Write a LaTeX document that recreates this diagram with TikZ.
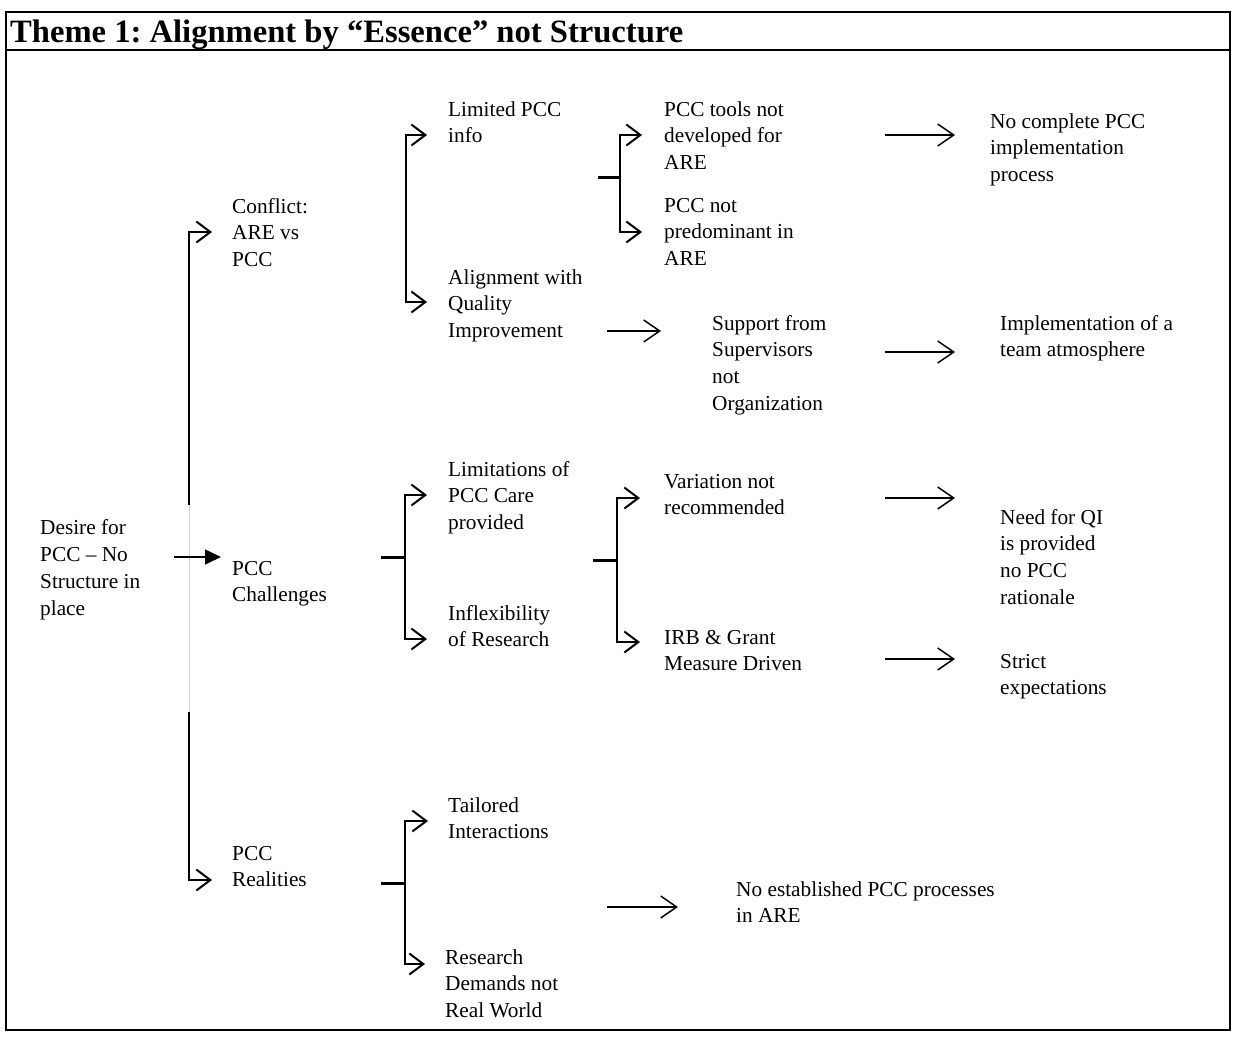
\documentclass[tikz,border=0pt]{standalone}
\usepackage{fontspec}
\setmainfont{Liberation Serif}
\frenchspacing
\usetikzlibrary{arrows.meta, positioning, calc}

\begin{document}
\begin{tikzpicture}[
    x=1pt, y=-1pt,
    lbl/.style={anchor=base west, align=left, inner sep=0pt,
                font=\fontsize{21.3}{26.7}\selectfont},
    ttl/.style={anchor=base west, inner sep=0pt,
                font=\fontsize{32.6}{38}\selectfont\bfseries},
    outer/.style={line width=2pt, black},
    brk/.style={line width=2pt,
                {Straight Barb[length=14pt,width=21pt]}-{Straight Barb[length=14pt,width=21pt]}},
    hook/.style={line width=2pt, -{Straight Barb[length=14pt,width=21pt]}},
    stub/.style={line width=3pt},
    lng/.style={line width=1.5pt, -{Straight Barb[length=16pt,width=22pt]}},
    fwd/.style={line width=1.6pt, -{Triangle[length=16pt,width=15pt]}}
]
\useasboundingbox (0,0) rectangle (1233,1036);

% --- Frame and title ---
\draw[outer] (6,12) rectangle (1230,1030);
\draw[outer] (6,50) -- (1230,50);
\node[ttl] (title) at (10,42) {Theme 1: Alignment by “Essence” not Structure};

% --- Root (nodes are placed at the baseline of their last line) ---
\node[lbl] (desire) at (40,615) {Desire for\\PCC -- No\\Structure in\\place};

% --- First level ---
\node[lbl] (conflict)   at (232,266.4) {Conflict:\\ARE vs\\PCC};
\node[lbl] (challenges) at (232,601.7) {PCC\\Challenges};
\node[lbl] (realities)  at (232,886.7) {PCC\\Realities};

% --- Second level ---
\node[lbl] (limited)  at (448,142.7)  {Limited PCC\\info};
\node[lbl] (alignq)   at (448,337.4)  {Alignment with\\Quality\\Improvement};
\node[lbl] (limits)   at (448,529.4)  {Limitations of\\PCC Care\\provided};
\node[lbl] (inflex)   at (448,646.7)  {Inflexibility\\of Research};
\node[lbl] (tailored) at (448,838.7)  {Tailored\\Interactions};
\node[lbl] (demands)  at (445,1017.4) {Research\\Demands not\\Real World};

% --- Third level ---
\node[lbl] (tools)     at (664,169.4) {PCC tools not\\developed for\\ARE};
\node[lbl] (predom)    at (664,265.4) {PCC not\\predominant in\\ARE};
\node[lbl] (support)   at (712,410.1) {Support from\\Supervisors\\not\\Organization};
\node[lbl] (variation) at (664,514.7) {Variation not\\recommended};
\node[lbl] (irb)       at (664,670.7) {IRB \& Grant\\Measure Driven};
\node[lbl] (noestab)   at (736,922.7) {No established PCC processes\\in ARE};

% --- Outcomes ---
\node[lbl] (nocomplete) at (990,181.4)  {No complete PCC\\implementation\\process};
\node[lbl] (teamatm)    at (1000,356.7) {Implementation of a\\team atmosphere};
\node[lbl] (needqi)     at (1000,604.1) {Need for QI\\is provided\\no PCC\\rationale};
\node[lbl] (strict)     at (1000,694.7) {Strict\\expectations};

% --- Main spine ---
\coordinate (spTop) at (189,505);
\coordinate (spBot) at (189,712);
\coordinate (spCf)  at (189,232);
\coordinate (spRe)  at (189,880);
\draw[line width=1pt, gray!35] (spTop) -- (spBot);
\draw[hook, shorten >=20pt] (spTop) -- (spCf) -- (spCf -| conflict.west);
\draw[hook, shorten >=20pt] (spBot) -- (spRe) -- (spRe -| realities.west);
\coordinate (dsA) at (174,557);
\draw[fwd, shorten >=11pt] (dsA) -- (dsA -| challenges.west);

% --- Conflict bracket ---
\coordinate (cfTop) at (406,135);
\coordinate (cfBot) at (406,302);
\draw[brk, shorten <=21pt, shorten >=21pt]
    (cfTop -| limited.west) -- (cfTop) -- (cfBot) -- (cfBot -| alignq.west);

% --- Limited PCC info bracket ---
\coordinate (liStub) at (598,177);
\coordinate (liTop)  at (620,135);
\coordinate (liBot)  at (620,232);
\draw[stub] (liStub) -- (liStub -| liTop);
\draw[brk, shorten <=22pt, shorten >=22pt]
    (liTop -| tools.west) -- (liTop) -- (liBot) -- (liBot -| predom.west);

% --- Challenges bracket ---
\coordinate (chStub) at (381,557);
\coordinate (chTop)  at (405,495);
\coordinate (chBot)  at (405,639);
\draw[stub] (chStub) -- (chStub -| chTop);
\draw[brk, shorten <=21pt, shorten >=21pt]
    (chTop -| limits.west) -- (chTop) -- (chBot) -- (chBot -| inflex.west);

% --- Limitations bracket ---
\coordinate (lmStub) at (593,560);
\coordinate (lmTop)  at (617,498);
\coordinate (lmBot)  at (617,642);
\draw[stub] (lmStub) -- (lmStub -| lmTop);
\draw[brk, shorten <=24pt, shorten >=24pt]
    (lmTop -| variation.west) -- (lmTop) -- (lmBot) -- (lmBot -| irb.west);

% --- Realities bracket ---
\coordinate (reStub) at (381,883);
\coordinate (reTop)  at (405,821);
\coordinate (reBot)  at (405,964);
\draw[stub] (reStub) -- (reStub -| reTop);
\draw[brk, shorten <=20pt, shorten >=20pt]
    (reTop -| tailored.west) -- (reTop) -- (reBot) -- (reBot -| demands.west);

% --- Long arrows ---
\coordinate (lgA) at (885,135);
\coordinate (lgB) at (607,331);
\coordinate (lgC) at (885,352);
\coordinate (lgD) at (885,498);
\coordinate (lgE) at (885,659);
\coordinate (lgF) at (607,907);
\draw[lng, shorten >=35pt] (lgA) -- (lgA -| nocomplete.west);
\draw[lng, shorten >=51pt] (lgB) -- (lgB -| support.west);
\draw[lng, shorten >=45pt] (lgC) -- (lgC -| teamatm.west);
\draw[lng, shorten >=45pt] (lgD) -- (lgD -| needqi.west);
\draw[lng, shorten >=45pt] (lgE) -- (lgE -| strict.west);
\draw[lng, shorten >=58pt] (lgF) -- (lgF -| noestab.west);

\end{tikzpicture}
\end{document}
